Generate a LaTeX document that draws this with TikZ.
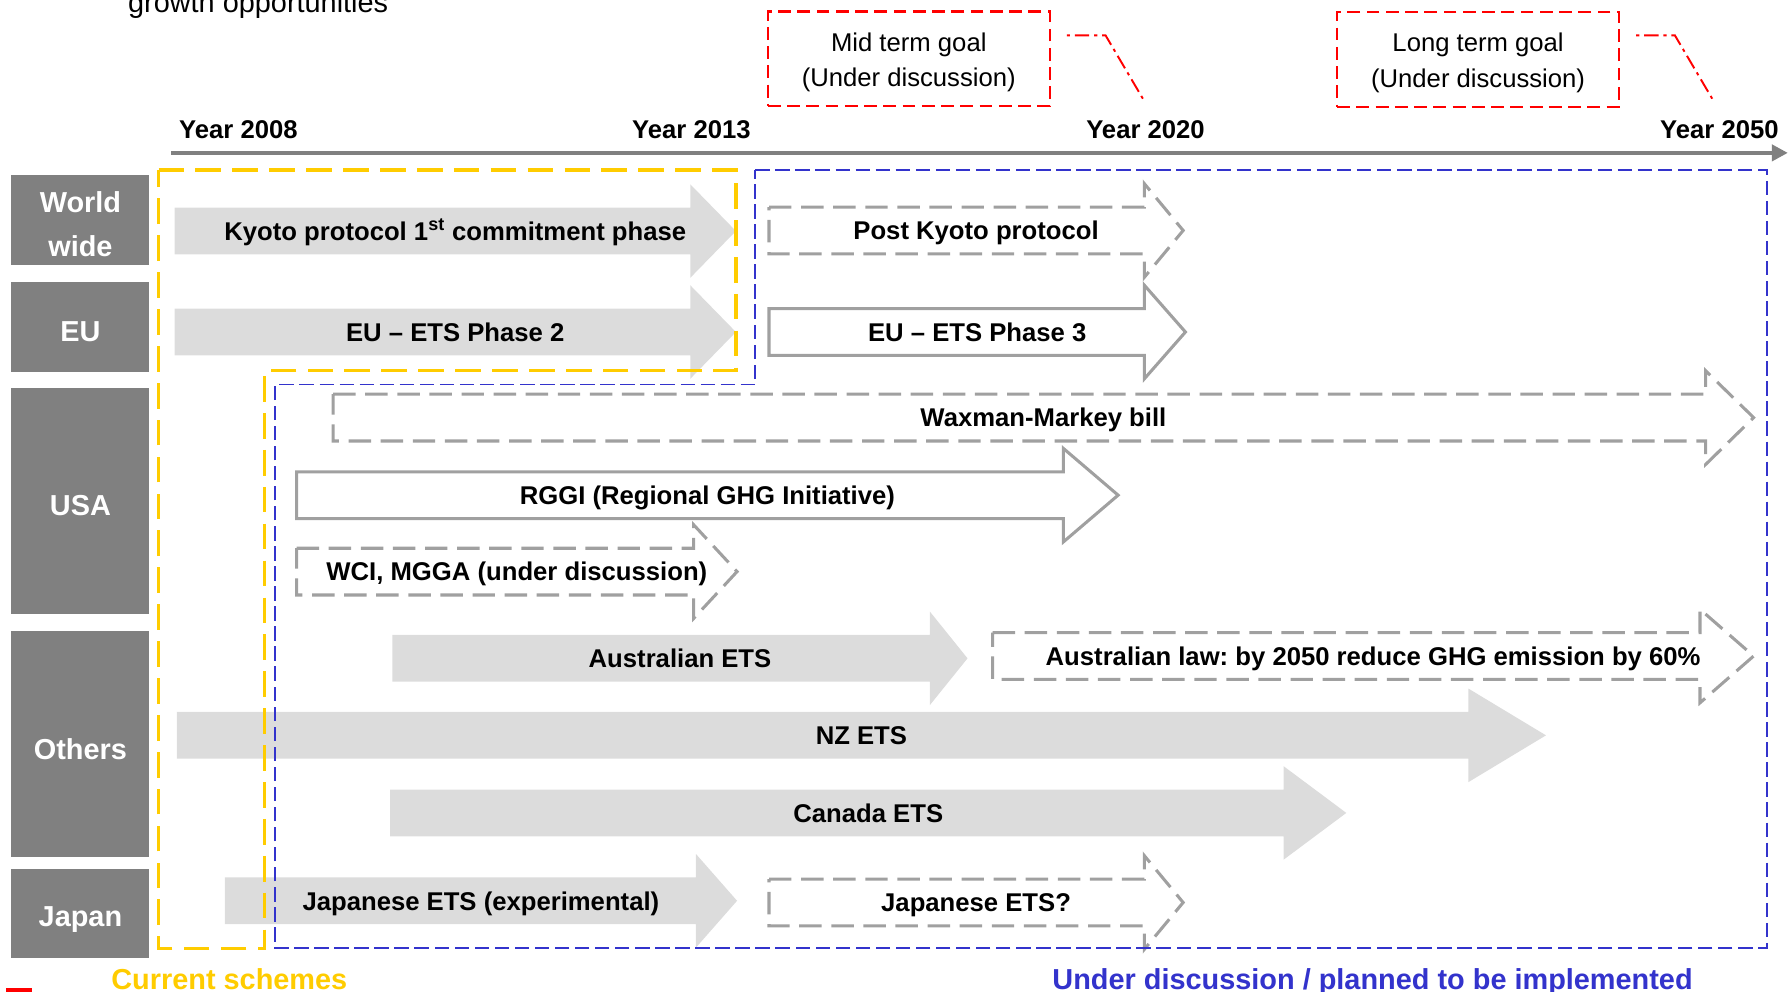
\documentclass[tikz,border=0pt]{standalone}
\usepackage{fontspec}
\setmainfont{Liberation Sans}
\usetikzlibrary{arrows.meta}
\frenchspacing
\newcommand{\pxu}{0.025cm}
\definecolor{catgray}{HTML}{808080}
\definecolor{arrowfill}{HTML}{DCDCDC}
\definecolor{arrowline}{HTML}{A0A0A0}
\definecolor{curyellow}{HTML}{FFCC00}
\definecolor{planblue}{HTML}{3333CC}
\definecolor{goalred}{HTML}{FF0000}
\tikzset{
  catbox/.style={rectangle, fill=catgray, text=white, align=center, inner sep=0pt,
    minimum width=121*\pxu, font=\fontsize{18pt}{27pt}\selectfont\bfseries,
    execute at begin node={\rule{0pt}{19pt}}},
  yearlabel/.style={anchor=base, inner sep=0pt, font=\fontsize{16pt}{19pt}\selectfont\bfseries},
  arrowtext/.style={inner sep=0pt, text height=11.5pt, text depth=0pt,
    font=\fontsize{16pt}{19pt}\selectfont\bfseries},
  fillarrow/.style={fill=arrowfill, draw=none},
  outarrow/.style={draw=arrowline, fill=white, line width=1.9pt},
  dasharrow/.style={outarrow, dash pattern=on 14pt off 6pt},
  goalbox/.style={draw=goalred, line width=1.4pt, dash pattern=on 8pt off 4pt, align=center,
    minimum width=247*\pxu, minimum height=83*\pxu, font=\fontsize{16pt}{22pt}\selectfont},
  callout/.style={draw=goalred, line width=1.2pt, dash pattern=on 2pt off 3pt on 9pt off 3pt},
  regionlabel/.style={anchor=base, inner sep=0pt, font=\fontsize{18pt}{20pt}\selectfont\bfseries}
}
\newcommand{\schemearrow}[7]{%
  \draw[#1] (#3,#6-20.5) -- (#4,#6-20.5) -- (#4,#6-41) -- (#5,#6)
    -- (#4,#6+41) -- (#4,#6+20.5) -- (#3,#6+20.5) -- cycle;
  \node[arrowtext] (#2) at ({(#3+#5)/2},#6) {#7};}

\begin{document}
\begin{tikzpicture}[x=0.025cm, y=-0.025cm]
  \useasboundingbox (0,0) rectangle (1568,869);
  \node[anchor=base west, inner sep=0pt, font=\fontsize{18pt}{20pt}\selectfont]
    (title) at (112,11) {growth opportunities};

  \node[yearlabel] (y2008) at (209,121) {Year 2008};
  \node[yearlabel] (y2013) at (606,121) {Year 2013};
  \node[yearlabel] (y2020) at (1004,121) {Year 2020};
  \node[yearlabel] (y2050) at (1507,121) {Year 2050};
  \coordinate (axisstart) at (150,134);
  \coordinate (axisend) at (1567,134);
  \draw[catgray, line width=2.7pt, -{Triangle[length=10pt, width=10pt]}] (axisstart) -- (axisend);

  \node[goalbox] (midgoal) at (796.5,51.5) {\rule{0pt}{16pt}Mid term goal\\(Under discussion)};
  \node[goalbox] (longgoal) at (1295.5,52) {\rule{0pt}{16pt}Long term goal\\(Under discussion)};
  \draw[callout] ([shift={(14,-20.5)}]midgoal.east) -- ++(34,0) -- ([shift={(-2,-18)}]y2020.north);
  \draw[callout] ([shift={(14,-21)}]longgoal.east) -- ++(34,0) -- ([shift={(-6,-18)}]y2050.north);

  \schemearrow{fillarrow}{kyoto}{153}{605}{645}{202.5}{Kyoto protocol 1\textsuperscript{st} commitment phase}
  \schemearrow{fillarrow}{euphase2}{153}{605}{645}{291}{EU -- ETS Phase 2}
  \schemearrow{dasharrow}{postkyoto}{674}{1003}{1037}{202}{Post Kyoto protocol}
  \schemearrow{outarrow}{euphase3}{674}{1003}{1039}{291}{EU -- ETS Phase 3}
  \schemearrow{dasharrow}{waxman}{292}{1495}{1537}{366}{Waxman-Markey bill}
  \schemearrow{outarrow}{rggi}{260}{932}{980}{434}{RGGI (Regional GHG Initiative)}
  \schemearrow{dasharrow}{wci}{260}{608}{646}{501}{WCI, MGGA (under discussion)}
  \schemearrow{fillarrow}{ausets}{344}{815}{848}{577}{Australian ETS}
  \schemearrow{dasharrow}{auslaw}{870}{1490}{1537}{575}{Australian law: by 2050 reduce GHG emission by 60\%}
  \schemearrow{fillarrow}{nzets}{155}{1287}{1355}{644.5}{NZ ETS}
  \schemearrow{fillarrow}{canets}{342}{1125}{1180}{712.5}{Canada ETS}
  \schemearrow{fillarrow}{japets}{197}{610}{646}{789.5}{Japanese ETS (experimental)}
  \schemearrow{dasharrow}{japetsq}{674}{1003}{1037}{791}{Japanese ETS?}

  \draw[curyellow, line width=2pt, dash pattern=on 16pt off 7pt]
    (139,149) -- (645,149) -- (645,325) -- (232,325) -- (232,831) -- (139,831) -- cycle;
  \draw[planblue, line width=1.2pt, dash pattern=on 9pt off 3.5pt]
    (662,149) -- (1549,149) -- (1549,831) -- (241,831) -- (241,337) -- (662,337) -- cycle;

  \node[catbox, minimum height=79*\pxu] (world) at (70.5,192.5) {\rule{0pt}{18.8pt}World\\wide};
  \node[catbox, minimum height=79*\pxu] (eu) at (70.5,286.5) {EU};
  \node[catbox, minimum height=198*\pxu] (usa) at (70.5,439) {USA};
  \node[catbox, minimum height=198*\pxu] (others) at (70.5,652) {Others};
  \node[catbox, minimum height=78*\pxu] (japan) at (70.5,801) {Japan};

  \node[regionlabel, text=curyellow] (current) at (201,867) {Current schemes};
  \node[regionlabel, text=planblue] (planned) at (1203,867) {Under discussion / planned to be implemented};
  \fill[goalred] (5,866) rectangle (28,872);
\end{tikzpicture}
\end{document}
